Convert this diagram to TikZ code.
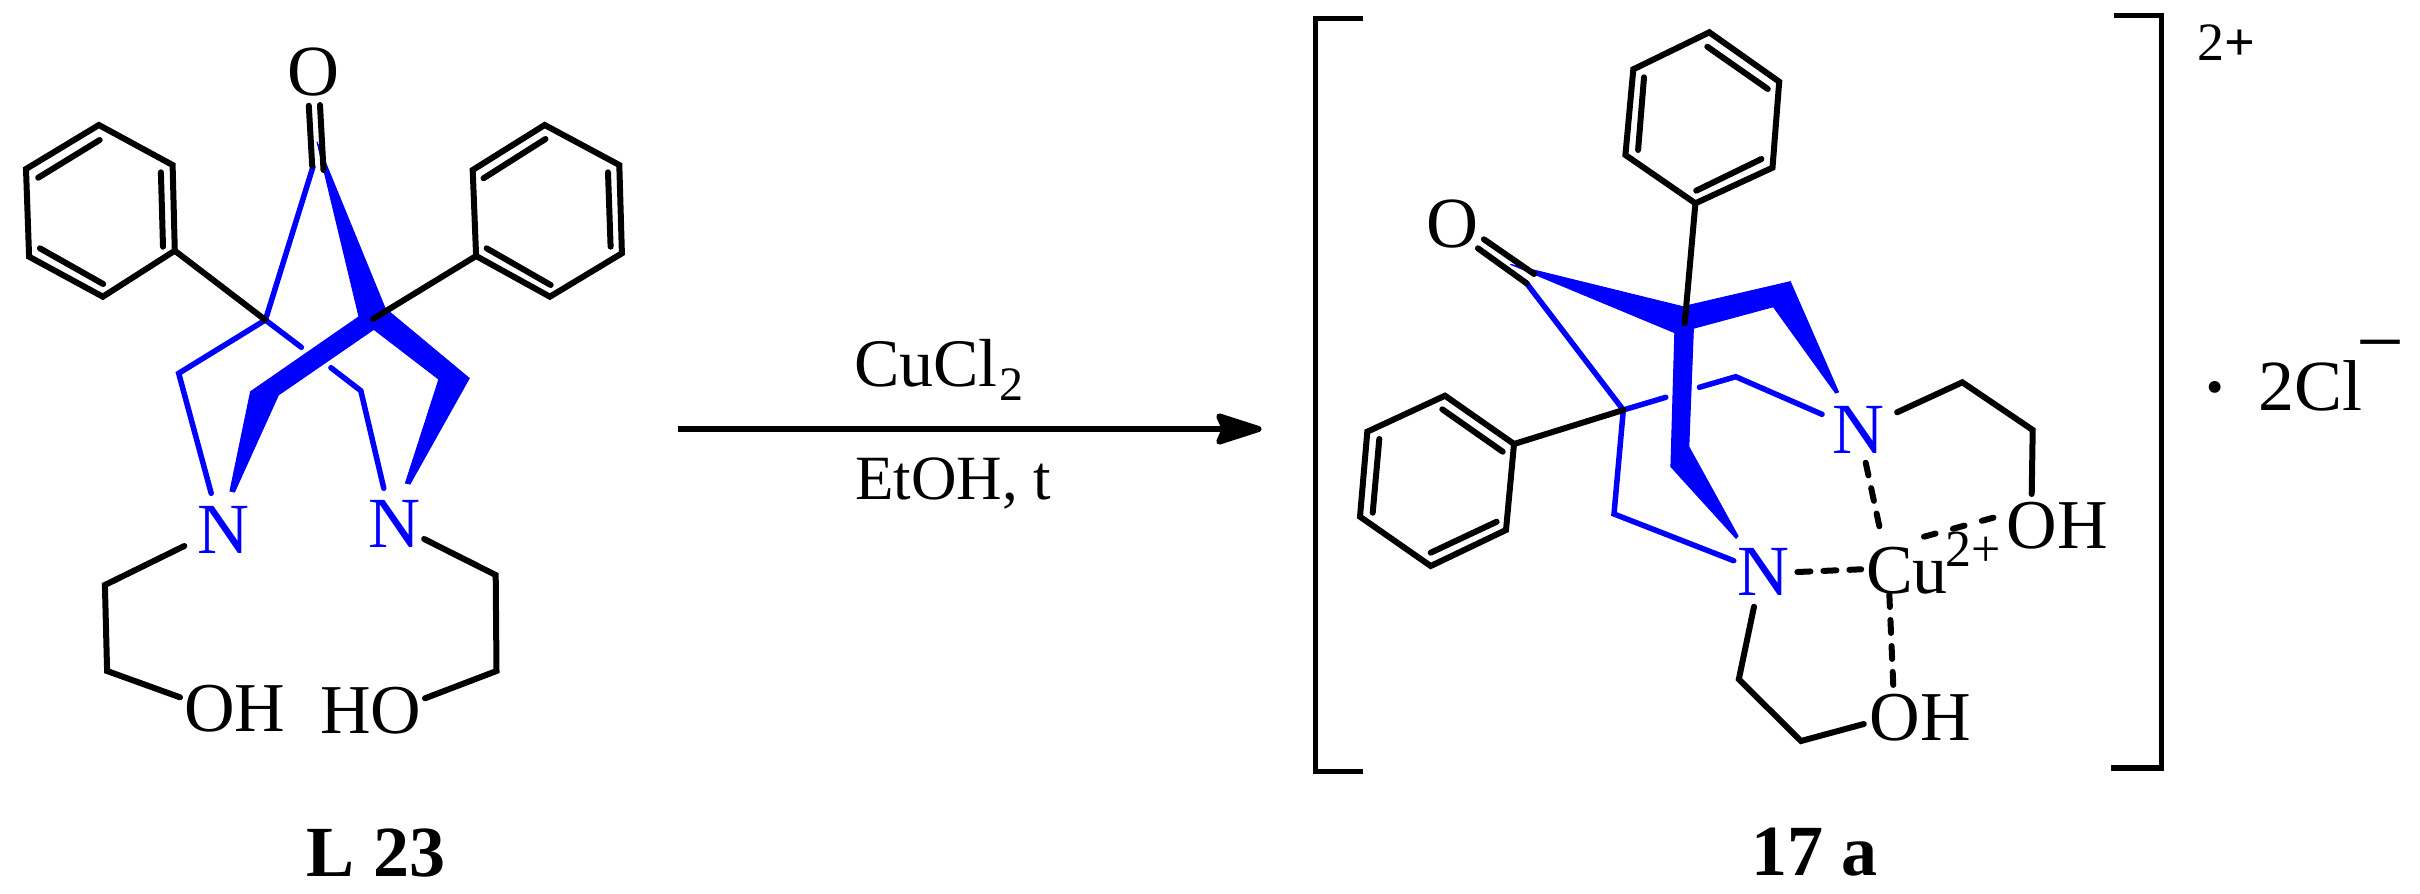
\documentclass[tikz,border=0pt]{standalone}
\usepackage{fontspec}
\setmainfont{Liberation Serif}
\usetikzlibrary{arrows.meta}
\newcommand{\fsz}[1]{\fontsize{#1}{#1}\selectfont}
\definecolor{bondblue}{RGB}{0,0,255}
\tikzset{
  x=1pt,y=-1pt,
  bond/.style={draw=black,line width=6pt,line join=miter,line cap=round},
  thinblue/.style={draw=bondblue,line width=5.5pt,line join=miter,line cap=round},
  bluewedge/.style={fill=bondblue,draw=bondblue,line width=1pt,line join=miter},
  metal/.style={draw=black,line width=6pt,line cap=round,dash pattern=on 13pt off 13pt},
  metaldash/.style={draw=black,line width=6pt,line cap=round,dash pattern=on 12pt off 18pt},
  brack/.style={draw=black,line width=5.5pt,line join=miter},
  atom/.style={inner sep=0pt,outer sep=0pt,anchor=base,font=\fsz{70}},
  natom/.style={atom,text=bondblue,font=\fsz{72}},
  smalltxt/.style={inner sep=0pt,outer sep=0pt,anchor=base,font=\fsz{52}},
  cmpd/.style={inner sep=0pt,outer sep=0pt,anchor=base,font=\fsz{72}\bfseries},
}
\begin{document}
\begin{tikzpicture}
\useasboundingbox (0,0) rectangle (2420,894);
% ---------- left molecule: L 23
\coordinate (a1) at (98.9,125);\coordinate (a2) at (172.6,165);\coordinate (a3) at (174.8,250.7);
\coordinate (a4) at (102.8,296.7);\coordinate (a5) at (29.1,256.7);\coordinate (a6) at (26,169);
\coordinate (b1) at (544.7,125);\coordinate (b2) at (619.3,165);\coordinate (b3) at (621.9,253.3);
\coordinate (b4) at (549.9,296.7);\coordinate (b5) at (476.1,256);\coordinate (b6) at (472.7,170);
\coordinate (cl) at (265.4,320);\coordinate (cr) at (372.9,319);
% wedge
\fill[bluewedge] (317,141.7) -- (385.1,308.3) -- (469.2,378.3) -- (410,484) -- (405.5,483) -- (438.9,379.3)
  -- (373.8,329.3) -- (278.4,395) -- (234.5,492) -- (230,491) -- (250.6,391.7) -- (359,316.7) -- cycle;
% thin blue
\draw[thinblue] (313,166.7) -- (cl) -- (178.7,373.3) -- (211.2,493.3);
\draw[thinblue] (cl) -- (301.4,347.3);
\draw[thinblue] (330.9,367.7) -- (360.8,390.7) -- (383.8,488.3);
% black bonds
\draw[bond] (a1) -- (a2) -- (a3) -- (a4) -- (a5) -- (a6) -- cycle;
\draw[bond] (99.7,140) -- (38.2,177.7);
\draw[bond] (160.9,172.3) -- (163,246.7);
\draw[bond] (39.9,248.3) -- (103.2,284);
\draw[bond] (a3) -- (cl);
\draw[bond] (b1) -- (b2) -- (b3) -- (b4) -- (b5) -- (b6) -- cycle;
\draw[bond] (545.5,139) -- (483.5,178.3);
\draw[bond] (608,172.3) -- (610.6,246.7);
\draw[bond] (486.6,248.3) -- (550.7,285);
\draw[bond] (b5) -- (cr);
\draw[bond] (308.8,105.7) -- (312.2,166);
\draw[bond] (320,105) -- (323.5,170);
\draw[bond] (184.3,546) -- (104.9,585) -- (107.1,671) -- (180,697.3);
\draw[bond] (424.1,539) -- (495.7,575) -- (496.5,671) -- (425,698.3);
% labels
\node[atom,font=\fsz{72}] (o1) at (313.5,95.7) {O};
\node[natom] (n1) at (223,553) {N};
\node[natom] (n2) at (394,547) {N};
\node[atom] (oh1) at (235,731) {OH};
\node[atom] (ho2) at (371,733) {HO};
\node[cmpd] (l23) at (376,876) {L 23};
% ---------- arrow
\coordinate (arrs) at (678,429);\coordinate (arre) at (1261.5,429);
\draw[line width=6pt,-{Stealth[length=54pt,width=34pt,inset=7pt,round]}] (arrs) -- (arre);
\node[inner sep=0pt,anchor=base west,font=\fsz{68}] (cu) at (854,386.7) {CuCl};
\node[inner sep=0pt,anchor=base west,font=\fsz{48}] (cu2) at (999,400) {2};
\node[inner sep=0pt,anchor=base west,font=\fsz{63}] (et) at (855,499) {EtOH, t};
% ---------- brackets
\coordinate (bl1) at (1362.5,18.3);\coordinate (bl2) at (1315.5,18.3);\coordinate (bl3) at (1315.5,771.7);\coordinate (bl4) at (1362.5,771.7);
\draw[brack] (bl1) -- (bl2) -- (bl3) -- (bl4);
\coordinate (br1) at (2114,15.3);\coordinate (br2) at (2161.3,15.3);\coordinate (br3) at (2161.3,768);\coordinate (br4) at (2111,768);
\draw[brack] (br1) -- (br2) -- (br3) -- (br4);
\node[inner sep=0pt,anchor=base west,font=\fsz{54}] (chg) at (2197,60) {2\textbf{+}};
% ---------- right molecule
\coordinate (c1) at (1709.3,32.3);\coordinate (c2) at (1779.2,81.7);\coordinate (c3) at (1772.5,167.7);
\coordinate (c4) at (1695.4,203.3);\coordinate (c5) at (1625.4,155);\coordinate (c6) at (1633.3,69.3);
\coordinate (d1) at (1445,395.7);\coordinate (d2) at (1514,444);\coordinate (d3) at (1506,530);
\coordinate (d4) at (1430.7,566);\coordinate (d5) at (1360,516.7);\coordinate (d6) at (1367.3,431.7);
\coordinate (cq) at (1623.3,410);
% wedge
\fill[bluewedge] (1510.4,264.3) -- (1682.8,306.7) -- (1790.3,281.7) -- (1838.5,392) -- (1835.5,393)
  -- (1773.3,306.7) -- (1693.4,328.3) -- (1688.8,446.7) -- (1738,536) -- (1736,538.3)
  -- (1670.9,466.7) -- (1674.8,332.7) -- cycle;
% thin blue
\draw[thinblue] (1526.6,283.3) -- (cq) -- (1665.8,397.3);
\draw[thinblue] (1699.4,387.3) -- (1735.7,376.7) -- (1822,414.3);
\draw[thinblue] (cq) -- (1614,514) -- (1733.7,560.7);
% black bonds
\draw[bond] (c1) -- (c2) -- (c3) -- (c4) -- (c5) -- (c6) -- cycle;
\draw[bond] (1707.3,46.7) -- (1767.8,89);
\draw[bond] (1761.4,159) -- (1696.2,190.7);
\draw[bond] (1638.1,150) -- (1644,77.3);
\draw[bond] (c4) -- (1684.7,323.3);
\draw[bond] (d1) -- (d2) -- (d3) -- (d4) -- (d5) -- (d6) -- cycle;
\draw[bond] (1442.3,409.3) -- (1502.7,451.7);
\draw[bond] (1496.7,521.7) -- (1430.7,552.7);
\draw[bond] (1372.7,512.7) -- (1379.3,439);
\draw[bond] (d2) -- (cq);
\draw[bond] (1483.9,239.3) -- (1534.1,274);
\draw[bond] (1477.9,248.3) -- (1526.6,283.3);
\draw[bond] (1897.1,412.3) -- (1962.3,382.3) -- (2032.7,430) -- (2031.7,494);
\draw[bond] (1754,606.7) -- (1738.8,679.3) -- (1801,741) -- (1863.8,724);
% coordination bonds
\draw[metal] (1865.7,462.7) -- (1880.7,532.7);
\draw[metal] (1797.4,572) -- (1861.2,569.3);
\draw[metal] (1889.3,594) -- (1893.4,688.3);
\draw[metaldash] (1924,536.7) -- (2006.7,514);
% labels
\node[atom,font=\fsz{72}] (o2) at (1452.6,247) {O};
\node[natom] (n3) at (1858,453.5) {N};
\node[natom] (n4) at (1763.5,595) {N};
\node[atom] (cu3) at (1907,593) {Cu};
\node[smalltxt] (cu3a) at (1958,566) {2};
\node[smalltxt] (cu3b) at (1985.7,566) {+};
\node[atom] (oh3) at (2057,548.3) {OH};
\node[atom] (oh4) at (1920,740.7) {OH};
\node[cmpd] (n17) at (1814,875) {17 a};
% counter-ion
\node[inner sep=0pt,anchor=base,font=\fsz{100}] (dot) at (2215,420) {·};
\node[atom,anchor=base west,font=\fsz{72}] (cl2) at (2258.5,410.7) {2Cl};
\node[inner sep=0pt,anchor=base,font=\fsz{85}] (minus) at (2380.5,370) {−};
\end{tikzpicture}
\end{document}
